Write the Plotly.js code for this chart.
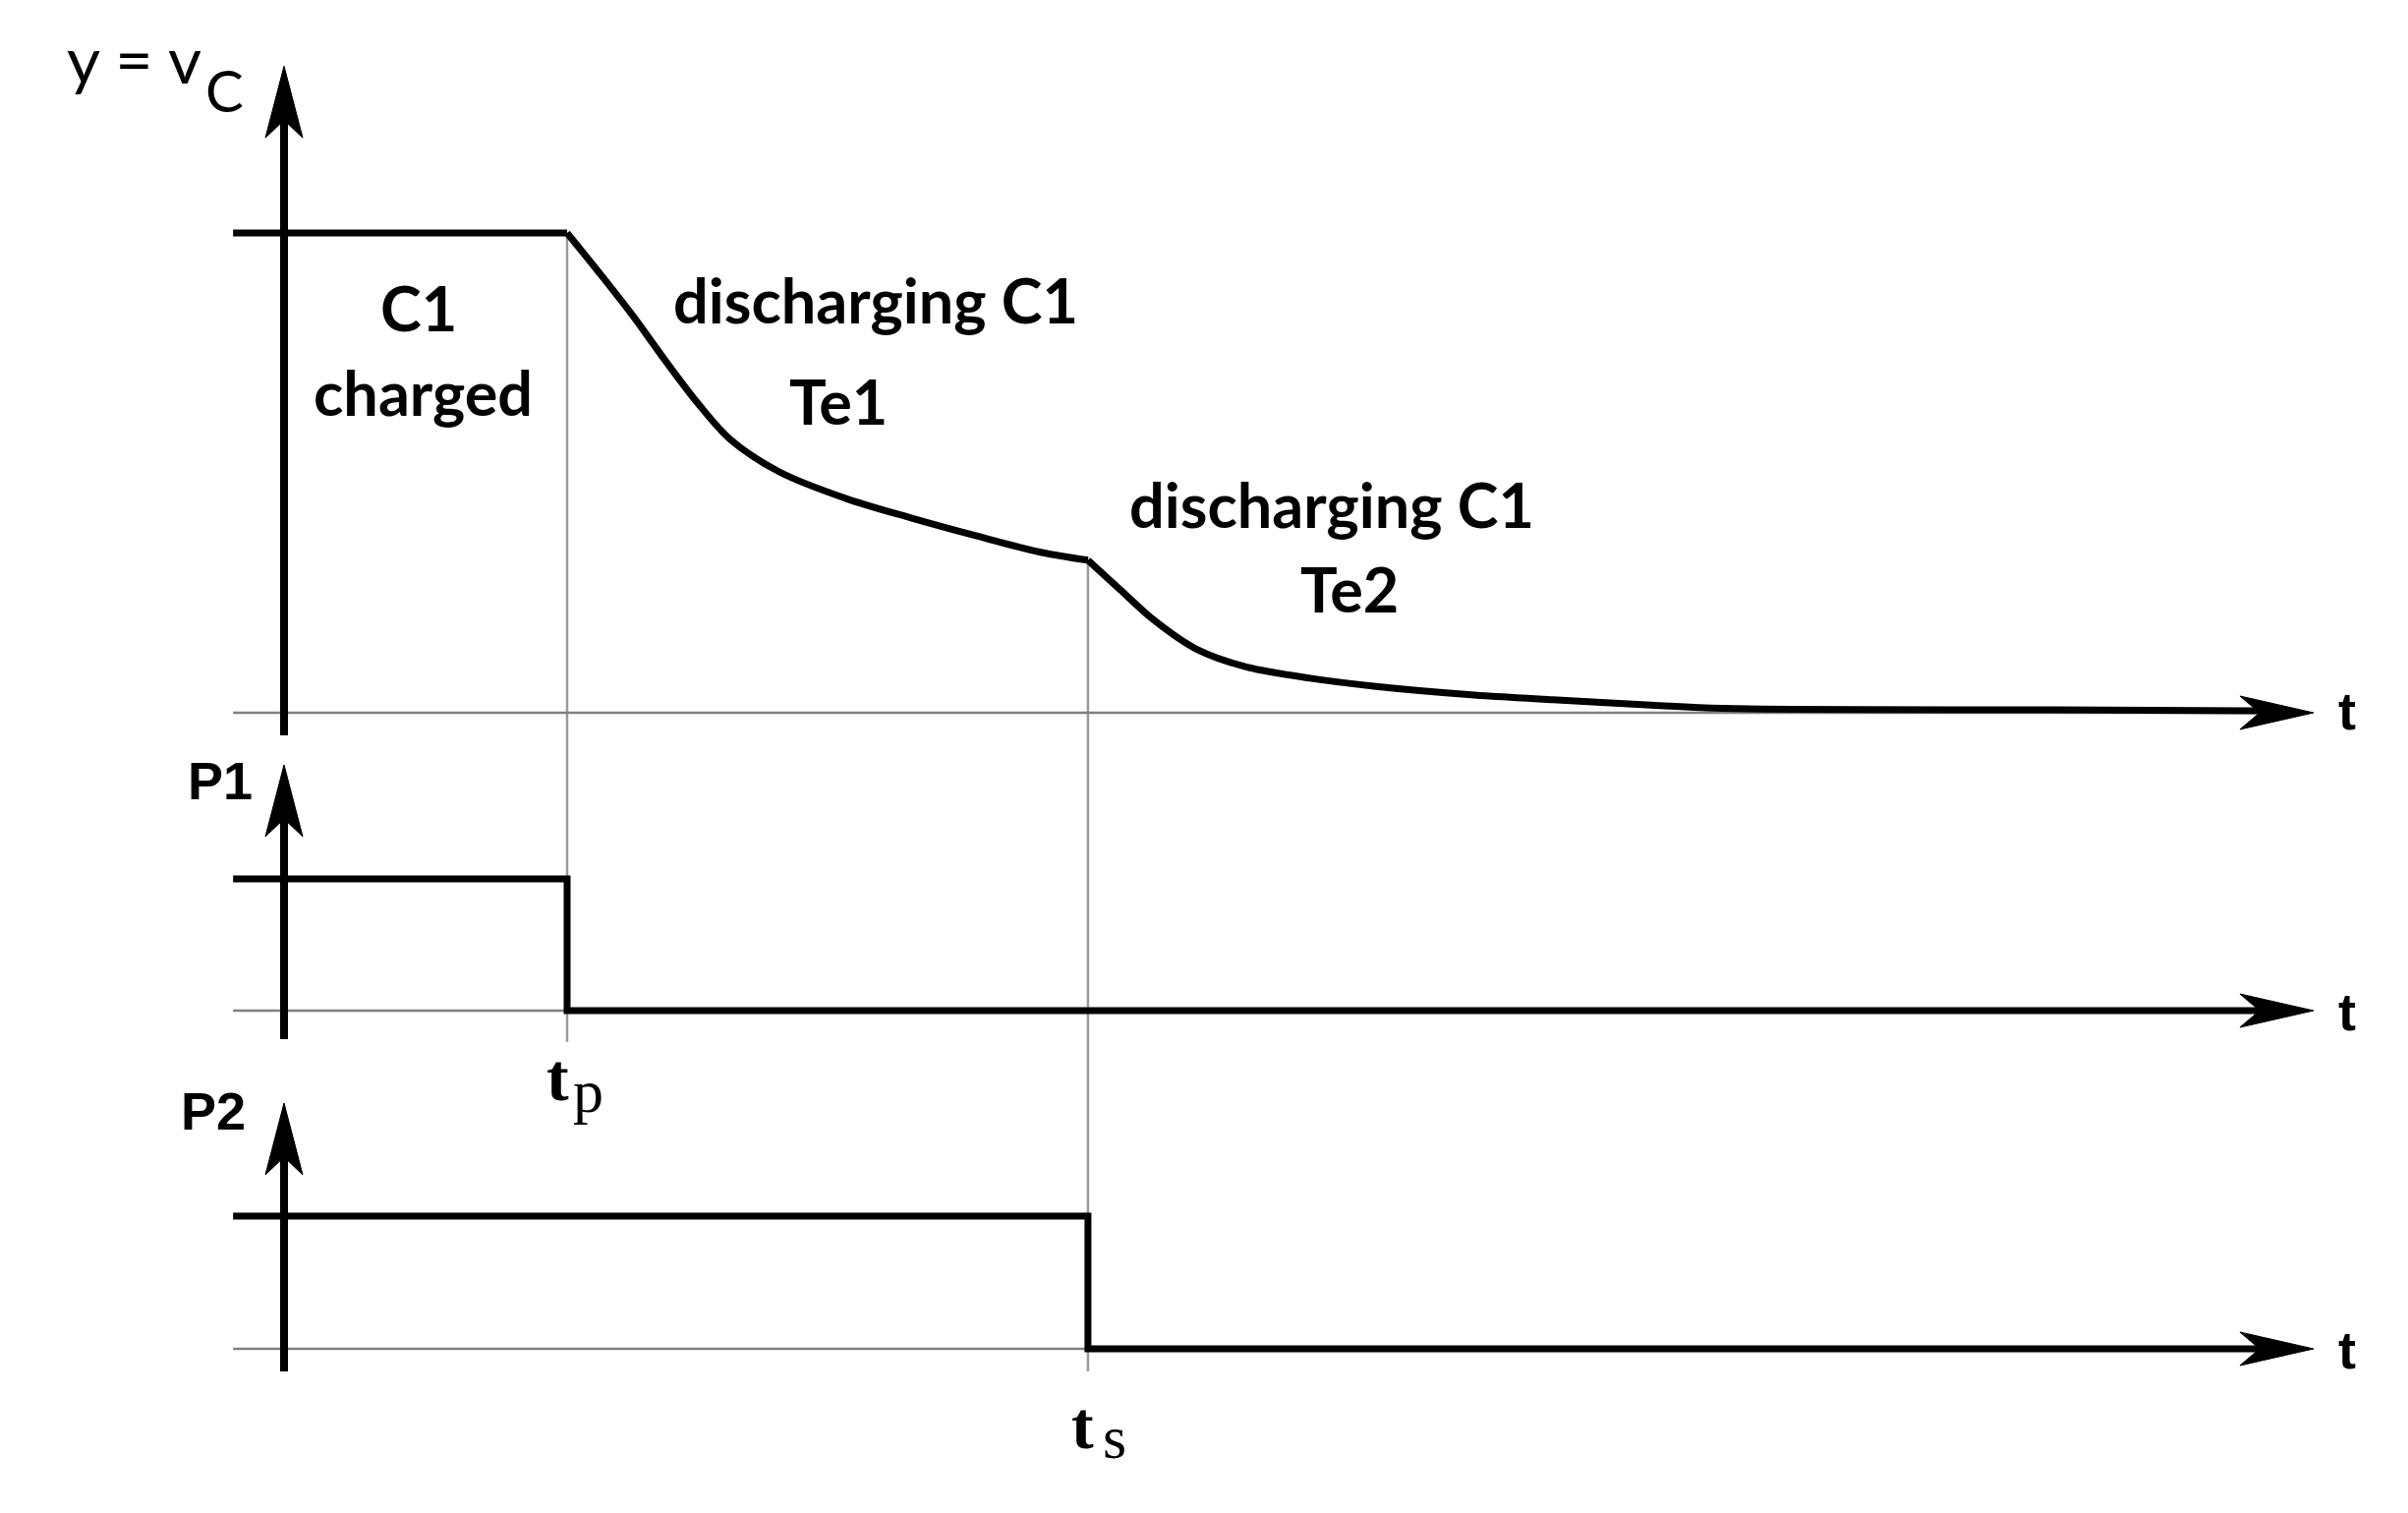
<!DOCTYPE html>
<html>
<head>
<meta charset="utf-8">
<script src="https://cdn.plot.ly/plotly-3.0.1.min.js"></script>
<style>html,body{margin:0;padding:0;background:#fff;overflow:hidden}#chart{width:2450px;height:1539px}</style>
</head>
<body>
<div id="chart"></div>
<script>
// ---- data (time in arbitrary units; tp = 1) ----
const T_LEFT = -0.18;      // start of level lines
const T_P = 1.0;           // tp : end of pulse P1
const T_S = 2.84;          // ts : end of pulse P2
const T_END = 7.0;         // end of drawn lines
const T_TIP = 7.17;        // tip of the time-axis arrows

// capacitor voltage vC (normalised, charged level = 1)
const vcT = [T_LEFT, 1.0, 1.115, 1.229, 1.347, 1.462, 1.576, 1.750, 1.983, 2.215, 2.444, 2.677, 2.84,
             2.955, 3.069, 3.222, 3.396, 3.625, 3.858, 4.205, 4.483, 4.830, 5.083, 6.253, 7.0];
const vcV = [1, 1, 0.916, 0.830, 0.734, 0.645, 0.570, 0.502, 0.447, 0.406, 0.369, 0.334, 0.318,
             0.256, 0.195, 0.133, 0.096, 0.072, 0.055, 0.037, 0.027, 0.016, 0.009, 0.006, 0.004];

// switch signals
const p1T = [T_LEFT, T_P, T_END];
const p1V = [1, 0, 0];
const p2T = [T_LEFT, T_S, T_END];
const p2V = [1, 0, 0];

// vertical-axis extents [bottom, tip] for each panel
const vcAxis = [-0.047, 1.348];
const p1Axis = [-0.216, 1.866];
const p2Axis = [-0.17, 1.852];

// labels
const vcLabel = ['y = v', 'C'];
const regionLabels = ['C1', 'charged', 'discharging C1', 'Te1', 'discharging C1', 'Te2'];
const signalLabels = ['P1', 'P2'];
const timeLabel = 't';
const tpLabel = ['t', 'p'];
const tsLabel = ['t', 's'];

// ---- layout geometry ----
const W = 2450, H = 1539;
const X0PX = 289, XK = 288;                 // pixel of t=0, pixels per unit
const xRange = [-X0PX / XK, (W - X0PX) / XK];
function yr(basePx, unitPx) { return [(basePx - H) / unitPx, basePx / unitPx]; }
const PX = p => p / W, PY = p => 1 - p / H;

const BLACK = '#000000', GRAY = '#808080', LGRAY = '#9a9a9a';
const LW = 7, AW = 8, GW = 2.5;

function line(x, y, yaxis, color, width, shape) {
  const l = {color: color, width: width, shape: shape || 'linear'};
  if (shape === 'spline') l.smoothing = 0.9;
  return {x: x, y: y, yaxis: yaxis, type: 'scatter', mode: 'lines', hoverinfo: 'skip',
          line: l, showlegend: false};
}

const iP = vcT.indexOf(T_P), iS = vcT.indexOf(T_S);
const traces = [
  // gray baselines
  line([T_LEFT, T_END], [0, 0], 'y', GRAY, GW),
  line([T_LEFT, T_END], [0, 0], 'y2', GRAY, GW),
  line([T_LEFT, T_END], [0, 0], 'y3', GRAY, GW),
  // vertical axes (shaft, arrowhead drawn as shape)
  line([0, 0], [vcAxis[0], vcAxis[1] - 0.09], 'y', BLACK, AW),
  line([0, 0], [p1Axis[0], p1Axis[1] - 0.33], 'y2', BLACK, AW),
  line([0, 0], [p2Axis[0], p2Axis[1] - 0.33], 'y3', BLACK, AW),
  // vC: charged level, discharge with Te1, discharge with Te2
  line(vcT.slice(0, iP + 1), vcV.slice(0, iP + 1), 'y', BLACK, LW),
  line(vcT.slice(iP, iS + 1), vcV.slice(iP, iS + 1), 'y', BLACK, LW, 'spline'),
  line(vcT.slice(iS), vcV.slice(iS), 'y', BLACK, LW, 'spline'),
  // switch signals
  line(p1T, p1V, 'y2', BLACK, LW, 'hv'),
  line(p2T, p2V, 'y3', BLACK, LW, 'hv')
];

// guide lines at tp and ts (thin gray)
const shapes = [
  {type: 'line', xref: 'x', yref: 'y', x0: T_P, x1: T_P, y0: 1, y1: -0.686, layer: 'below',
   line: {color: LGRAY, width: GW}},
  {type: 'line', xref: 'x', yref: 'y', x0: T_S, x1: T_S, y0: vcV[iS], y1: -1.373, layer: 'below',
   line: {color: LGRAY, width: GW}}
];
// arrowheads
const upHead = 'M0,0 L-19,-73 L0,-55 L19,-73 Z';
const rightHead = 'M0,0 L-75,17 L-55,0 L-75,-17 Z';
[['y', vcAxis[1]], ['y2', p1Axis[1]], ['y3', p2Axis[1]]].forEach(function(a) {
  shapes.push({type: 'path', xref: 'x', yref: a[0], xsizemode: 'pixel', ysizemode: 'pixel',
    xanchor: 0, yanchor: a[1], path: upHead, fillcolor: BLACK, line: {color: BLACK, width: 1}});
  shapes.push({type: 'path', xref: 'x', yref: a[0], xsizemode: 'pixel', ysizemode: 'pixel',
    xanchor: T_TIP, yanchor: 0, path: rightHead, fillcolor: BLACK, line: {color: BLACK, width: 1}});
});

const LATO = 'Lato, "Open Sans", sans-serif';
const SANS = '"Liberation Sans", Arial, sans-serif';
const SERIF = '"Liberation Serif", "Times New Roman", serif';
function ann(text, xpx, ypx, family, size, weight) {
  return {text: text, xref: 'paper', yref: 'paper', x: PX(xpx), y: PY(ypx), xanchor: 'center', yanchor: 'middle',
          showarrow: false, font: {family: family, size: size, color: BLACK, weight: weight || 400}};
}
const annotations = [
  ann(vcLabel[0], 136, 59, LATO, 66, 400),
  ann(vcLabel[1], 228, 91, LATO, 58, 400),
  ann(regionLabels[0], 426, 313, LATO, 63, 700),
  ann(regionLabels[1], 430, 398, LATO, 63, 700),
  ann(regionLabels[2], 891, 305, LATO, 63, 700),
  ann(regionLabels[3], 853, 407, LATO, 63, 700),
  ann(regionLabels[4], 1355, 513, LATO, 63, 700),
  ann(regionLabels[5], 1373, 598, LATO, 63, 700),
  ann(signalLabels[0], 224, 794, SANS, 54, 700),
  ann(signalLabels[1], 217, 1130, SANS, 54, 700),
  ann(timeLabel, 2388, 723, SANS, 54, 700),
  ann(timeLabel, 2388, 1029, SANS, 54, 700),
  ann(timeLabel, 2388, 1373, SANS, 54, 700),
  ann(tpLabel[0], 567, 1096, SERIF, 68, 700),
  ann(tpLabel[1], 598, 1110, SERIF, 62, 400),
  ann(tsLabel[0], 1101, 1450, SERIF, 68, 700),
  ann(tsLabel[1], 1134, 1462, SERIF, 62, 400)
];

const hidden = {visible: false, showgrid: false, zeroline: false, fixedrange: true};
const layout = {
  width: W, height: H, autosize: false,
  margin: {l: 0, r: 0, t: 0, b: 0, pad: 0},
  paper_bgcolor: '#ffffff', plot_bgcolor: '#ffffff',
  showlegend: false,
  xaxis: Object.assign({range: xRange}, hidden),
  yaxis: Object.assign({range: yr(725, 488)}, hidden),
  yaxis2: Object.assign({range: yr(1028, 134), overlaying: 'y'}, hidden),
  yaxis3: Object.assign({range: yr(1372, 135), overlaying: 'y'}, hidden),
  shapes: shapes,
  annotations: annotations
};
Plotly.newPlot('chart', traces, layout, {staticPlot: true, displayModeBar: false});
</script>
</body>
</html>
